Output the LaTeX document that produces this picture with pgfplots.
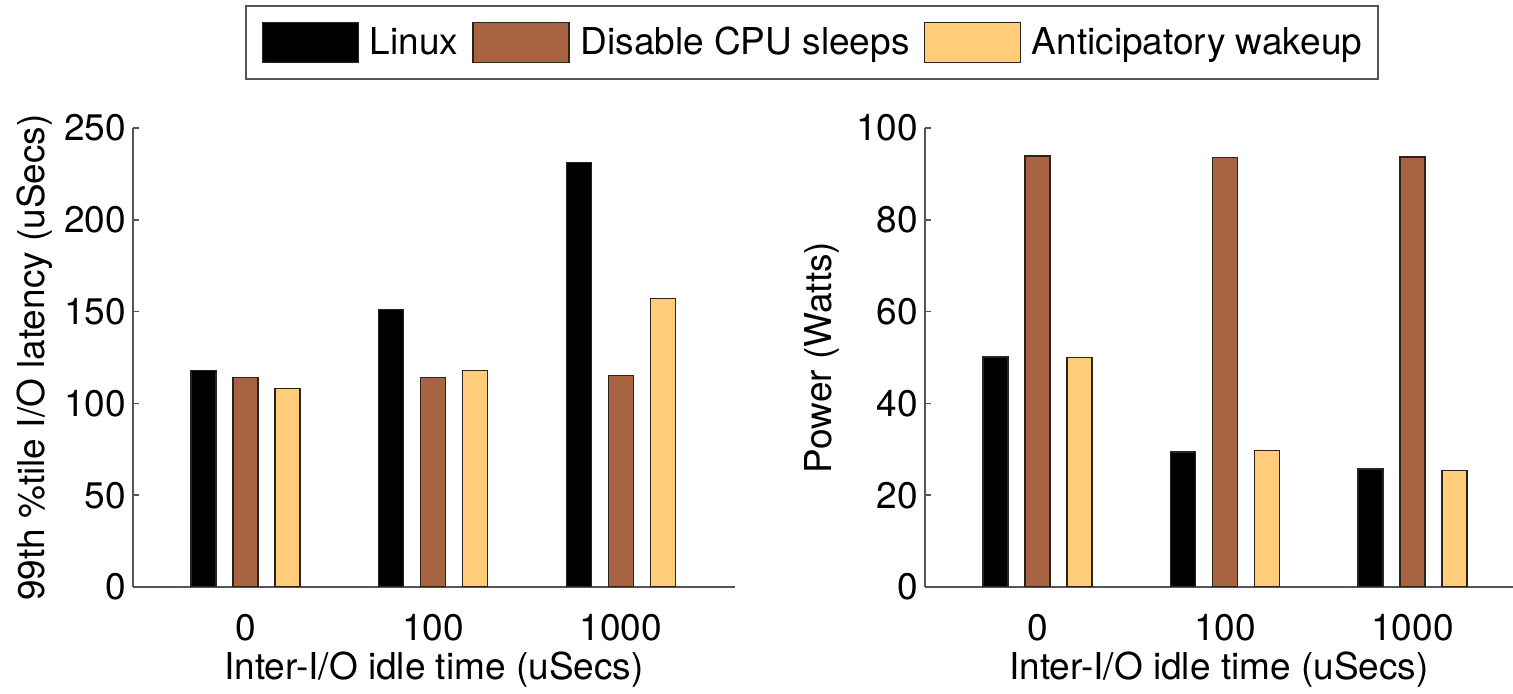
\documentclass[border=0pt]{standalone}
\usepackage{pgfplots}
\pgfplotsset{compat=1.18}
\usepackage{fontspec}
\setmainfont{TeX Gyre Heros}
\definecolor{cbrown}{RGB}{168,100,66}
\definecolor{cyellow}{RGB}{255,204,122}
\definecolor{cedge}{RGB}{45,35,25}
\definecolor{caxis}{RGB}{85,85,85}
\newcommand{\bigf}{\fontsize{18.5}{22}\selectfont}
\pgfplotsset{
  mybar/.style={ybar, bar width=12.5pt, bar shift=#1, draw=cedge, line width=0.6pt,
    legend image code/.code={\draw[##1] (0pt,-10pt) rectangle (48pt,10pt);}},
  base/.style={scale only axis, height=229.5pt, ymin=0, xmin=0.4,
    axis x line=bottom, axis y line=left,
    axis line style={-, draw=caxis, line width=1pt},
    xtick={1,2,3}, xticklabels={0,100,1000},
    xtick style={draw=none},
    ytick style={draw=caxis, line width=0.8pt},
    tick align=inside, major tick length=3pt,
    tick label style={font=\bigf},
    /pgf/number format/assume math mode=true,
    xticklabel style={yshift=-10pt},
    xlabel={Inter-I/O idle time (uSecs)},
    every axis x label/.style={at={(axis description cs:0.5,-0.181)}, anchor=center, font=\bigf},
  }
}
\begin{document}
\begin{tikzpicture}
\useasboundingbox (0,0) rectangle (756.5pt,347pt);
\begin{axis}[base, at={(66.5pt,53.5pt)}, anchor=south west,
  width=301pt, xmax=3.61, ymax=250, ytick={0,50,...,250},
  ylabel={99th \%tile I/O latency (uSecs)},
  every axis y label/.style={at={(axis description cs:-0.163,0.5)}, rotate=90, anchor=center, font=\bigf},
  legend style={at={(axis description cs:0.186,1.268)}, anchor=north west,
    legend columns=3, draw=caxis, line width=0.8pt, inner xsep=8pt, inner ysep=8pt,
    font=\bigf, nodes={inner sep=0pt},
    /tikz/every odd column/.append style={column sep=5.5pt},
    /tikz/every even column/.append style={column sep=7pt}},
]
\addplot[mybar=-21pt, fill=black] coordinates {(1,118) (2,151) (3,231)};
\addplot[mybar=0pt, fill=cbrown] coordinates {(1,114) (2,114) (3,115)};
\addplot[mybar=21pt, fill=cyellow] coordinates {(1,108) (2,118) (3,157)};
\legend{Linux, Disable CPU sleeps, Anticipatory wakeup}
\end{axis}
\begin{axis}[base, at={(462.5pt,53.5pt)}, anchor=south west,
  width=294pt, xmax=3.536, ymax=100, ytick={0,20,...,100},
  ylabel={Power (Watts)},
  every axis y label/.style={at={(axis description cs:-0.175,0.5)}, rotate=90, anchor=center, font=\bigf},
]
\addplot[mybar=-21pt, fill=black] coordinates {(1,50.1) (2,29.4) (3,25.7)};
\addplot[mybar=0pt, fill=cbrown] coordinates {(1,93.9) (2,93.5) (3,93.7)};
\addplot[mybar=21pt, fill=cyellow] coordinates {(1,50.0) (2,29.8) (3,25.3)};
\end{axis}
\end{tikzpicture}
\end{document}
